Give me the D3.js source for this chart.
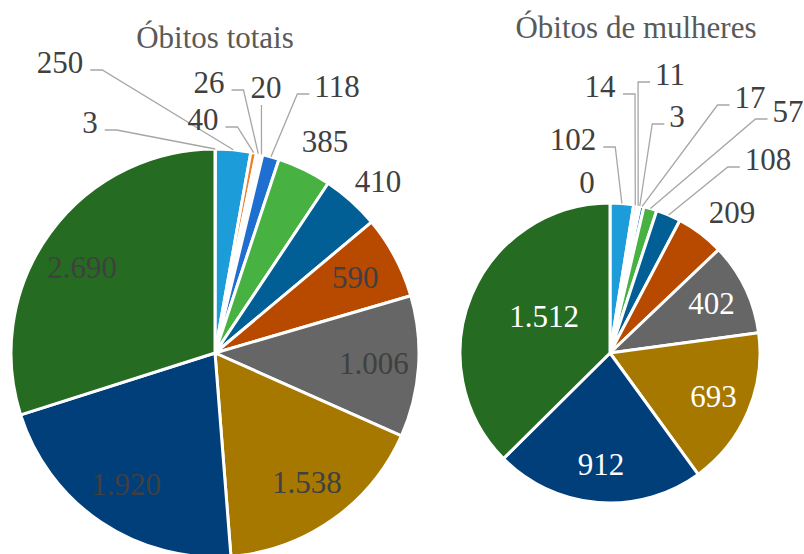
<!DOCTYPE html>
<html>
<head>
<meta charset="utf-8">
<script src="https://cdn.jsdelivr.net/npm/d3@7"></script>
<style>
  body { margin: 0; background: #fff; }
</style>
</head>
<body>
<div id="chart"></div>
<script>
// data
let titles = ["Óbitos totais", "Óbitos de mulheres"]
let totais = [3, 250, 40, 26, 20, 118, 385, 410, 590, 1006, 1538, 1920, 2690]
let mulheres = [0, 102, 14, 11, 3, 17, 57, 108, 209, 402, 693, 912, 1512]
let colors = ["#7f7f7f", "#1c9dd9", "#f07f26", "#ffffff", "#ffffff", "#1e6fd0", "#47b242",
              "#015f95", "#b84a00", "#666666", "#a67800", "#013f7b", "#256b22"]

let width = 804
let height = 554
let font = "'Liberation Serif', 'Times New Roman', serif"
let labelSize = 31

// layout of each pie: centre, radius, where outside labels go (dx, baseline dy, leader side)
let pies = [
    { values: totais, title: titles[0], cx: 215, cy: 353, r: 204, titleX: 215, titleY: 48,
      insideFactor: 0.78, insideColor: "#404040",
      outside: {
        0: [-125, -220, "R"], 1: [-155, -280, "R"], 2: [-12, -223, "R"], 3: [-6, -260, "R"],
        4: [51, -255, "B"], 5: [122, -256, "L"], 6: [110, -201, null], 7: [163, -161, null]
      },
      override: { 12: [-133, -75] } },
    { values: mulheres, title: titles[1], cx: 610, cy: 353, r: 150, titleX: 636, titleY: 38,
      insideFactor: 0.75, insideColor: "#ffffff",
      outside: {
        0: [-23, -160, null], 1: [-37, -203, "R"], 2: [-10, -256, "R"], 3: [60, -268, "L"],
        4: [67, -226, "L"], 5: [140, -245, "L"], 6: [178, -231, "L"], 7: [158, -183, "L"],
        8: [122, -130, null]
      },
      override: { 12: [-66, -26] } }
]

let fmt = function(v) {
    // portuguese thousands separator
    return d3.format(",")(v).replace(/,/g, ".")
}

let svg = d3.select("#chart")
            .append("svg")
            .attr("width", width)
            .attr("height", height)

let pie = d3.pie().sort(null).value(function(d) { return d })

pies.forEach(function(p) {
    let g = svg.append("g").attr("transform", "translate(" + p.cx + "," + p.cy + ")")
    let arcs = pie(p.values)
    let arc = d3.arc().innerRadius(0).outerRadius(p.r)
    let rim = d3.arc().innerRadius(p.r).outerRadius(p.r)
    let inner = d3.arc().innerRadius(p.r * p.insideFactor).outerRadius(p.r * p.insideFactor)

    g.selectAll("path.slice")
        .data(arcs)
        .enter()
        .append("path")
        .attr("class", "slice")
        .attr("d", arc)
        .attr("fill", function(d, i) { return colors[i] })
        .attr("stroke", "#fff")
        .attr("stroke-width", 3)
        .attr("stroke-linejoin", "round")

    svg.append("text")
        .attr("x", p.titleX)
        .attr("y", p.titleY)
        .attr("text-anchor", "middle")
        .style("font-family", font)
        .attr("font-size", 31)
        .attr("fill", "#595959")
        .text(p.title)

    arcs.forEach(function(d, i) {
        let o = p.outside[i]
        if (o) {
            let t = g.append("text")
                .attr("x", o[0])
                .attr("y", o[1])
                .attr("text-anchor", "middle")
                .style("font-family", font)
                .attr("font-size", labelSize)
                .attr("fill", "#404040")
                .text(fmt(d.data))
            if (o[2]) {
                let bb = t.node().getBBox()
                let end = rim.centroid(d)
                let ly = o[1] - 3
                let pts
                if (o[2] === "R") {
                    pts = [[bb.x + bb.width + 7, ly], [bb.x + bb.width + 19, ly], end]
                } else if (o[2] === "L") {
                    pts = [[bb.x - 5, ly], [bb.x - 17, ly], end]
                } else {
                    pts = [[end[0], o[1] + 7], end]
                }
                g.append("path")
                    .attr("d", d3.line()(pts))
                    .attr("fill", "none")
                    .attr("stroke", "#a6a6a6")
                    .attr("stroke-width", 1.3)
            }
        } else {
            let c = p.override[i] ? [p.override[i][0], p.override[i][1] - 10] : inner.centroid(d)
            g.append("text")
                .attr("x", c[0])
                .attr("y", c[1] + 10)
                .attr("text-anchor", "middle")
                .style("font-family", font)
                .attr("font-size", labelSize)
                .attr("fill", p.insideColor)
                .text(fmt(d.data))
        }
    })
})
</script>
</body>
</html>
